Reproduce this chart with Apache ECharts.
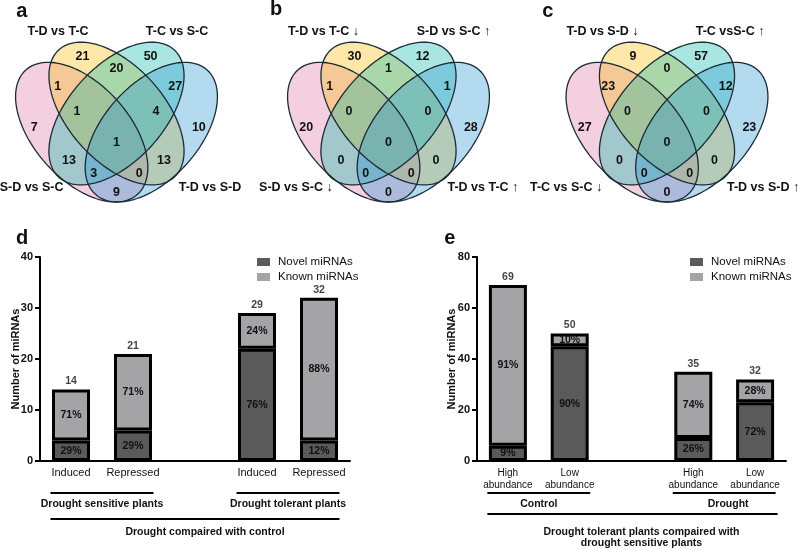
<!DOCTYPE html>
<html>
<head>
<meta charset="utf-8">
<script src="https://cdn.jsdelivr.net/npm/echarts@6/dist/echarts.min.js"></script>
<style>
  html, body { margin: 0; padding: 0; background: #fff; }
  #chart { width: 798px; height: 550px; }
</style>
</head>
<body>
<div id="chart"></div>
<script>
// ---- venn counts, region order:
// Y only, C only, Y&C, P&Y, C&B, P&Y&C, Y&C&B, P only, B only, all four, P&C, Y&B, P&C&B, P&Y&B, P&B
var vennA = [21, 50, 20, 1, 27, 1, 4, 7, 10, 1, 13, 13, 3, 0, 9];
var vennB = [30, 12, 1, 1, 1, 0, 0, 20, 28, 0, 0, 0, 0, 0, 0];
var vennC = [9, 57, 0, 23, 12, 0, 0, 27, 23, 0, 0, 0, 0, 0, 0];
// set names: top left (yellow), top right (cyan), bottom left (pink), bottom right (blue)
var setsA = ['T-D vs T-C', 'T-C vs S-C', 'S-D vs S-C', 'T-D vs S-D'];
var setsB = ['T-D vs T-C ↓', 'S-D vs S-C ↑', 'S-D vs S-C ↓', 'T-D vs T-C ↑'];
var setsC = ['T-D vs S-D ↓', 'T-C vsS-C ↑', 'T-C vs S-C ↓', 'T-D vs S-D ↑'];

// ---- panel d
var catsD = ['Induced', 'Repressed', '', 'Induced', 'Repressed'];
var novelD = [4, 6, null, 22, 4];
var knownD = [10, 15, null, 7, 28];
var totalD = [14, 21, null, 29, 32];
var novelPctD = [29, 29, null, 76, 12];
var knownPctD = [71, 71, null, 24, 88];
var groupsD = ['Drought sensitive plants', 'Drought tolerant plants'];
var titleD = 'Drought compaired with control';

// ---- panel e
var catsE = ['High\nabundance', 'Low\nabundance', '', 'High\nabundance', 'Low\nabundance'];
var novelE = [6, 45, null, 9, 23];
var knownE = [63, 5, null, 26, 9];
var totalE = [69, 50, null, 35, 32];
var novelPctE = [9, 90, null, 26, 72];
var knownPctE = [91, 10, null, 74, 28];
var groupsE = ['Control', 'Drought'];
var titleE = 'Drought tolerant plants compaired with\ndrought sensitive plants';

var FONT = 'Arial, "Liberation Sans", sans-serif';

// venn layout in a unit square (y up)
var ellipses = [
  {x: 0.35, y: 0.47, a: 0.35, b: 0.20, r: 135, c: 'rgba(221,118,166,0.35)'},
  {x: 0.50, y: 0.546, a: 0.36, b: 0.20, r: 135, c: 'rgba(249,189,12,0.35)'},
  {x: 0.50, y: 0.546, a: 0.36, b: 0.20, r: 45, c: 'rgba(12,184,169,0.35)'},
  {x: 0.65, y: 0.47, a: 0.35, b: 0.20, r: 45, c: 'rgba(41,149,212,0.35)'}
];
var regionPos = [
  [0.353, 0.777], [0.647, 0.777], [0.5, 0.728], [0.247, 0.658], [0.753, 0.658],
  [0.33, 0.556], [0.67, 0.556], [0.145, 0.487], [0.855, 0.487], [0.5, 0.426],
  [0.295, 0.356], [0.705, 0.356], [0.402, 0.303], [0.598, 0.303], [0.5, 0.222]
];
var namePos = [
  [[0.248, 0.879], [0.761, 0.879], [0.134, 0.242], [0.903, 0.242]],
  [[0.22, 0.879], [0.78, 0.879], [0.101, 0.242], [0.907, 0.242]],
  [[0.222, 0.879], [0.772, 0.879], [0.065, 0.242], [0.914, 0.242]]
];

var chart = echarts.init(document.getElementById('chart'));

function drawEllipses(params, api) {
  var fills = [], lines = [];
  ellipses.forEach(function (e) {
    var t = e.r * Math.PI / 180, pts = [];
    for (var k = 0; k < 160; k++) {
      var s = k / 160 * Math.PI * 2;
      var ex = e.a * Math.cos(s), ey = e.b * Math.sin(s);
      pts.push(api.coord([e.x + ex * Math.cos(t) - ey * Math.sin(t), e.y + ex * Math.sin(t) + ey * Math.cos(t)]));
    }
    fills.push({type: 'polygon', shape: {points: pts}, style: {fill: e.c, stroke: 'rgba(0,0,0,0)'}});
    lines.push({type: 'polygon', shape: {points: pts}, style: {fill: 'rgba(0,0,0,0)', stroke: '#1b2a33', lineWidth: 1.3}});
  });
  return {type: 'group', children: fills.concat(lines)};
}

function textItem(texts, size) {
  return function (params, api) {
    var p = api.coord([api.value(0), api.value(1)]);
    return {
      type: 'text', x: p[0], y: p[1],
      style: {
        text: String(texts[params.dataIndex]), fill: '#111',
        fontSize: size, fontWeight: 'bold', fontFamily: FONT,
        align: 'center', verticalAlign: 'middle', textAlign: 'center', textVerticalAlign: 'middle'
      }
    };
  };
}

function vennSeries(idx, counts, names) {
  return [
    {type: 'custom', xAxisIndex: idx, yAxisIndex: idx, silent: true, clip: false,
     data: [[0.5, 0.5]], renderItem: drawEllipses},
    {type: 'custom', xAxisIndex: idx, yAxisIndex: idx, silent: true, clip: false,
     data: regionPos, renderItem: textItem(counts, 12.5)},
    {type: 'custom', xAxisIndex: idx, yAxisIndex: idx, silent: true, clip: false,
     data: namePos[idx], renderItem: textItem(names, 12.5)}
  ];
}

function vennGrid(cx) {
  return {left: cx - 116, top: 2.3, width: 232, height: 245, outerBoundsMode: 'none'};
}
function hiddenAxis(idx) {
  return {type: 'value', gridIndex: idx, min: 0, max: 1, show: false};
}
function catAxis(idx, cats, size) {
  return {
    type: 'category', gridIndex: idx, data: cats,
    axisLine: {lineStyle: {color: '#000', width: 2}},
    axisTick: {alignWithLabel: true, length: 4, lineStyle: {color: '#000', width: 2}},
    axisLabel: {color: '#111', fontSize: size, fontFamily: FONT, margin: 6, interval: 0, lineHeight: 12}
  };
}
function valAxis(idx, max, step, gap) {
  return {
    type: 'value', gridIndex: idx, min: 0, max: max, interval: step,
    name: 'Number of miRNAs', nameLocation: 'middle', nameGap: gap, nameMoveOverlap: false,
    nameTextStyle: {color: '#111', fontSize: 11, fontWeight: 'bold', fontFamily: FONT},
    axisLine: {show: true, lineStyle: {color: '#000', width: 2}},
    axisTick: {show: true, length: 5, lineStyle: {color: '#000', width: 2}},
    axisLabel: {color: '#111', fontSize: 11, fontWeight: 'bold', fontFamily: FONT, margin: 7},
    splitLine: {show: false}
  };
}

function barSeries(idx, stack, novel, known, total, novelPct, knownPct) {
  var lab = {show: true, position: 'inside', color: '#111', fontSize: 10.5, fontWeight: 'bold', fontFamily: FONT};
  return [
    {name: 'Novel miRNAs', type: 'bar', stack: stack, xAxisIndex: idx, yAxisIndex: idx, barWidth: 38,
     data: novel, itemStyle: {color: '#5a5a5a', borderColor: '#000', borderWidth: 3},
     label: Object.assign({formatter: function (p) { return novelPct[p.dataIndex] + '%'; }}, lab)},
    {name: 'Known miRNAs', type: 'bar', stack: stack, xAxisIndex: idx, yAxisIndex: idx, barWidth: 38,
     data: known, itemStyle: {color: '#a4a4a6', borderColor: '#000', borderWidth: 3},
     label: Object.assign({formatter: function (p) { return knownPct[p.dataIndex] + '%'; }}, lab)},
    {type: 'scatter', xAxisIndex: idx, yAxisIndex: idx, data: total, symbolSize: 1, silent: true,
     itemStyle: {color: 'rgba(0,0,0,0)'},
     label: {show: true, position: 'top', distance: 2, color: '#111', fontSize: 10.5, fontWeight: 'bold', fontFamily: FONT,
             formatter: function (p) { return total[p.dataIndex]; }}}
  ];
}

function legendAt(left) {
  return {
    orient: 'vertical', left: left, top: 256, padding: 0, icon: 'rect', itemWidth: 13, itemHeight: 8, itemGap: 3,
    data: ['Novel miRNAs', 'Known miRNAs'], selectedMode: false,
    itemStyle: {borderWidth: 0},
    textStyle: {color: '#111', fontSize: 11.5, fontFamily: FONT, padding: [0, 0, 0, 3]}
  };
}

var option = {
  animation: false,
  backgroundColor: '#fff',
  textStyle: {fontFamily: FONT},
  grid: [
    vennGrid(116.5), vennGrid(388.5), vennGrid(667),
    {left: 40, top: 257, width: 310, height: 204, outerBoundsMode: 'none'},
    {left: 477, top: 257, width: 309, height: 204, outerBoundsMode: 'none'}
  ],
  xAxis: [hiddenAxis(0), hiddenAxis(1), hiddenAxis(2), catAxis(3, catsD, 11), catAxis(4, catsE, 10)],
  yAxis: [hiddenAxis(0), hiddenAxis(1), hiddenAxis(2), valAxis(3, 40, 10, 19), valAxis(4, 80, 20, 20)],
  legend: [legendAt(257), legendAt(690)],
  series: [].concat(
    vennSeries(0, vennA, setsA),
    vennSeries(1, vennB, setsB),
    vennSeries(2, vennC, setsC),
    barSeries(3, 'd', novelD, knownD, totalD, novelPctD, knownPctD),
    barSeries(4, 'e', novelE, knownE, totalE, novelPctE, knownPctE)
  )
};
chart.setOption(option);

// group brackets under the bar charts
var HALF = 20.5;
function cx(axis, i) { return chart.convertToPixel({xAxisIndex: axis}, i); }
function hline(x1, x2, y) {
  return {type: 'line', shape: {x1: x1, y1: y, x2: x2, y2: y}, style: {stroke: '#000', lineWidth: 2}};
}
function label(text, x, y, size, weight, lh) {
  return {type: 'text', x: x, y: y, style: {
    text: text, fill: '#111', fontSize: size, fontWeight: weight || 'bold', fontFamily: FONT, lineHeight: lh || size + 2,
    align: 'center', verticalAlign: 'middle', textAlign: 'center', textVerticalAlign: 'middle'}};
}
var g = [];
[[3, groupsD, titleD, 519, 532], [4, groupsE, titleE, 514, 537.5]].forEach(function (cfg) {
  var ax = cfg[0];
  var l0 = cx(ax, 0) - HALF, r1 = cx(ax, 1) + HALF, l3 = cx(ax, 3) - HALF, r4 = cx(ax, 4) + HALF;
  g.push(hline(l0, r1, 493), hline(l3, r4, 493), hline(l0, r4 + (ax === 4 ? 2 : 0), cfg[3]));
  g.push(label(cfg[1][0], (l0 + r1) / 2, 504, 10.5));
  g.push(label(cfg[1][1], (l3 + r4) / 2 + (ax === 4 ? 4 : 0), 504, 10.5));
  g.push(label(cfg[2], (l0 + r4) / 2 + 10, cfg[4], 10.5, 'bold', 11.5));
});
// panel letters
[['a', 21.7, 11.3], ['b', 276, 9], ['c', 547.7, 11.3], ['d', 22, 238], ['e', 449.7, 238]].forEach(function (t) {
  g.push(label(t[0], t[1], t[2], 20));
});
chart.setOption({graphic: g});
</script>
</body>
</html>
